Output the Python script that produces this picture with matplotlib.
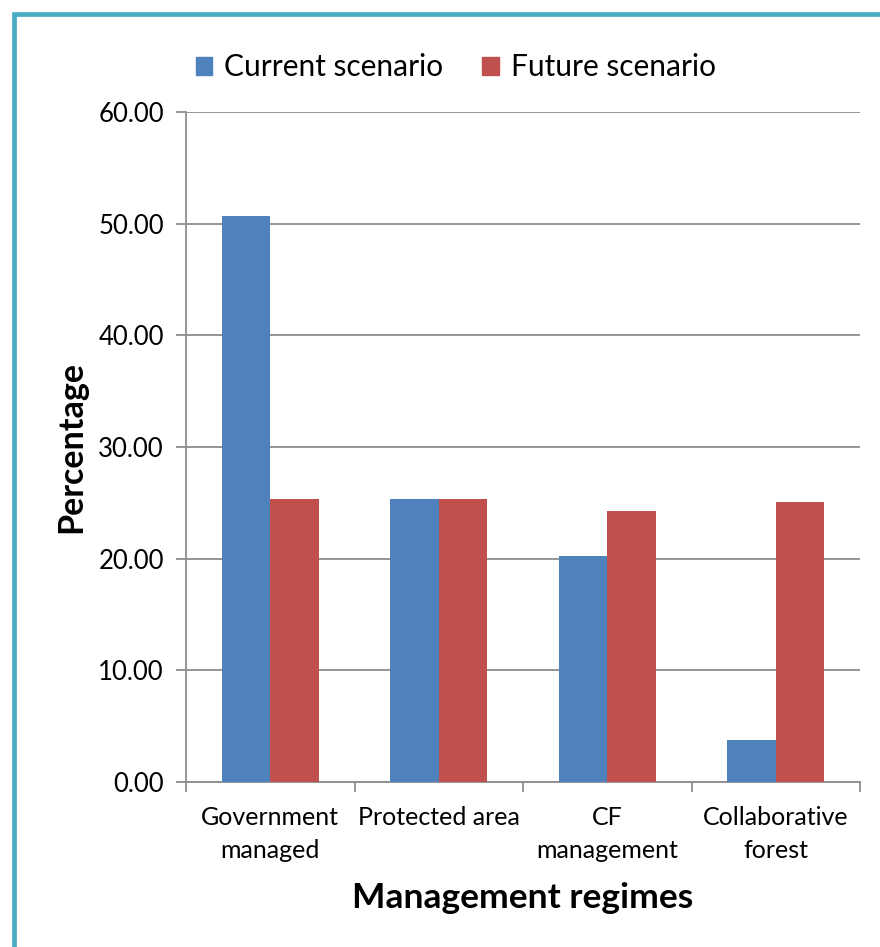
import matplotlib
matplotlib.use("Agg")
import matplotlib.pyplot as plt
import numpy as np
from matplotlib.patches import Rectangle, Patch

categories = ["Government\nmanaged", "Protected area", "CF\nmanagement", "Collaborative\nforest"]
current = [50.67, 25.34, 20.23, 3.76]
future = [25.34, 25.34, 24.26, 25.07]
yticks = [0, 10, 20, 30, 40, 50, 60]

plt.rcParams['font.family'] = ['Lato', 'DejaVu Sans']

fig = plt.figure(figsize=(8.8, 9.47), dpi=100)
ax = fig.add_axes([186/880, 165/947, 674/880, 670/947])

x = np.arange(len(categories))
w = 0.288
blue = "#4F81BD"
red = "#C0504D"
ax.bar(x - w/2, current, w, color=blue, zorder=3)
ax.bar(x + w/2, future, w, color=red, zorder=3)

ax.set_xlim(-0.5, len(categories) - 0.5)
ax.set_ylim(0, 60)
ax.set_yticks(yticks)
ax.set_yticklabels([f"{v:.2f}" for v in yticks], fontsize=18.5)
ax.yaxis.grid(True, color="#8c8c8c", linewidth=1.3, zorder=0)
ax.set_axisbelow(True)

ax.set_xticks(np.arange(-0.5, len(categories), 1.0))
ax.set_xticklabels([])
ax.set_xticks(x, minor=True)
ax.set_xticklabels(categories, minor=True, fontsize=18, linespacing=1.55)
ax.tick_params(axis='x', which='minor', length=0, pad=17)
ax.tick_params(axis='x', which='major', length=7, width=1.3, color="#8c8c8c", direction='out')
ax.tick_params(axis='y', length=7, width=1.3, color="#8c8c8c", direction='out', pad=9)

for s in ["top", "right"]:
    ax.spines[s].set_visible(False)
for s in ["left", "bottom"]:
    ax.spines[s].set_color("#8c8c8c")
    ax.spines[s].set_linewidth(1.3)

ax.set_ylabel("Percentage", fontsize=24.5, fontweight='bold', labelpad=8)
ax.set_xlabel("Management regimes", fontsize=25.5, fontweight='bold', labelpad=14)

handles = [Patch(color=blue, label="Current scenario"), Patch(color=red, label="Future scenario")]
fig.legend(handles=handles, loc='center', bbox_to_anchor=(0.518, 0.929), ncol=2, frameon=False,
           fontsize=21.5, handlelength=0.55, handleheight=0.55, handletextpad=0.4, columnspacing=1.3)

border = Rectangle((13.5/880, -0.1), 1.2, (947 - 13.5)/947 + 0.1, transform=fig.transFigure,
                   fill=False, edgecolor="#4BACC6", linewidth=3.4)
fig.patches.append(border)

fig.savefig("out.png", dpi=100)
